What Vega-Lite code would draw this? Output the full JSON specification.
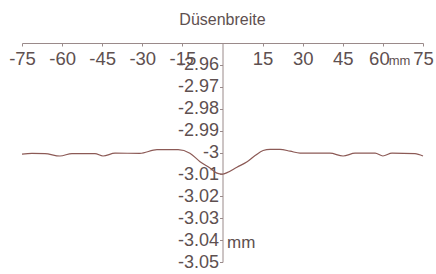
{
  "$schema": "https://vega.github.io/schema/vega-lite/v6.json",
  "width": 401,
  "height": 219,
  "autosize": {"type": "none"},
  "padding": {"left": 22, "top": 43, "right": 13, "bottom": 12},
  "background": "white",
  "title": {"text": "Düsenbreite", "font": "Liberation Sans", "fontSize": 16, "fontWeight": "normal", "color": "#5e5050", "offset": 15, "anchor": "middle", "frame": "group"},
  "config": {"view": {"stroke": null}, "axis": {"labelOverlap": false, "labelBound": false}},
  "layer": [
    {
      "data": {"values": [
        {"x": -75, "y": -3.0007}, {"x": -71.3, "y": -3.0004}, {"x": -66.4, "y": -3.0005},
        {"x": -60.8, "y": -3.0016}, {"x": -56.3, "y": -3.0005}, {"x": -47.7, "y": -3.0005},
        {"x": -44.7, "y": -3.0016}, {"x": -40.2, "y": -3.0003}, {"x": -30.9, "y": -3.0004},
        {"x": -24.5, "y": -2.9987}, {"x": -16.6, "y": -2.9987}, {"x": -12.2, "y": -3.0003},
        {"x": -8.4, "y": -3.0042}, {"x": -4.7, "y": -3.0071}, {"x": -2.1, "y": -3.0094},
        {"x": 0, "y": -3.0099}, {"x": 1.7, "y": -3.0092}, {"x": 5.4, "y": -3.0067},
        {"x": 9.2, "y": -3.0042}, {"x": 12.2, "y": -3.0014}, {"x": 15.2, "y": -2.9991},
        {"x": 17.8, "y": -2.9986}, {"x": 21.5, "y": -2.9986}, {"x": 25.3, "y": -2.9994},
        {"x": 29, "y": -3.0003}, {"x": 40.2, "y": -3.0003}, {"x": 45.1, "y": -3.0016},
        {"x": 49.6, "y": -3.0003}, {"x": 57.1, "y": -3.0003}, {"x": 60, "y": -3.0016},
        {"x": 63.4, "y": -3.0003}, {"x": 72, "y": -3.0005}, {"x": 75, "y": -3.0016}
      ]},
      "mark": {"type": "line", "interpolate": "monotone", "color": "#8c5a56", "strokeWidth": 1.2},
      "encoding": {
        "x": {"field": "x", "type": "quantitative",
          "scale": {"domain": [-75, 75], "nice": false, "zero": false},
          "axis": {"orient": "bottom", "offset": -219, "title": null, "grid": false,
            "values": [-75, -60, -45, -30, -15, 15, 30, 45, 60, 75], "tickCount": 30,
            "labelExpr": "replace(datum.label, '−', '-')",
            "labelOffset": {"condition": {"test": "datum.value == 60", "value": -4}, "value": 0},
            "labelFont": "Liberation Sans", "labelFontSize": 18.5, "labelColor": "#5e5050",
            "labelPadding": 3, "tickSize": 3, "tickColor": "#9a8a8a", "domainColor": "#9a8a8a",
            "labelFlush": false, "labelOverlap": false}},
        "y": {"field": "y", "type": "quantitative",
          "scale": {"domain": [-3.05, -2.95], "nice": false, "zero": false},
          "axis": {"orient": "left", "offset": -200.5, "title": null, "grid": false,
            "values": [-2.96, -2.97, -2.98, -2.99, -3.0, -3.01, -3.02, -3.03, -3.04, -3.05], "tickCount": 30,
            "format": ".2~f",
            "labelExpr": "replace(datum.label, '−', '-')",
            "labelFont": "Liberation Sans", "labelFontSize": 18, "labelColor": "#5e5050",
            "labelPadding": 1, "tickSize": 3, "tickColor": "#9a8a8a", "domainColor": "#9a8a8a",
            "labelFlush": false, "labelOverlap": false}}
      }
    },
    {
      "data": {"values": [
        {"x": 62.2, "y": -2.9582, "t": "mm", "s": "small"},
        {"x": 1.7, "y": -3.0414, "t": "mm", "s": "large"}
      ]},
      "mark": {"type": "text", "font": "Liberation Sans", "color": "#5e5050", "align": "left", "baseline": "middle"},
      "encoding": {
        "x": {"field": "x", "type": "quantitative"},
        "y": {"field": "y", "type": "quantitative"},
        "text": {"field": "t"},
        "size": {"field": "s", "type": "nominal", "scale": {"domain": ["small", "large"], "range": [13, 17]}, "legend": null}
      }
    }
  ]
}
